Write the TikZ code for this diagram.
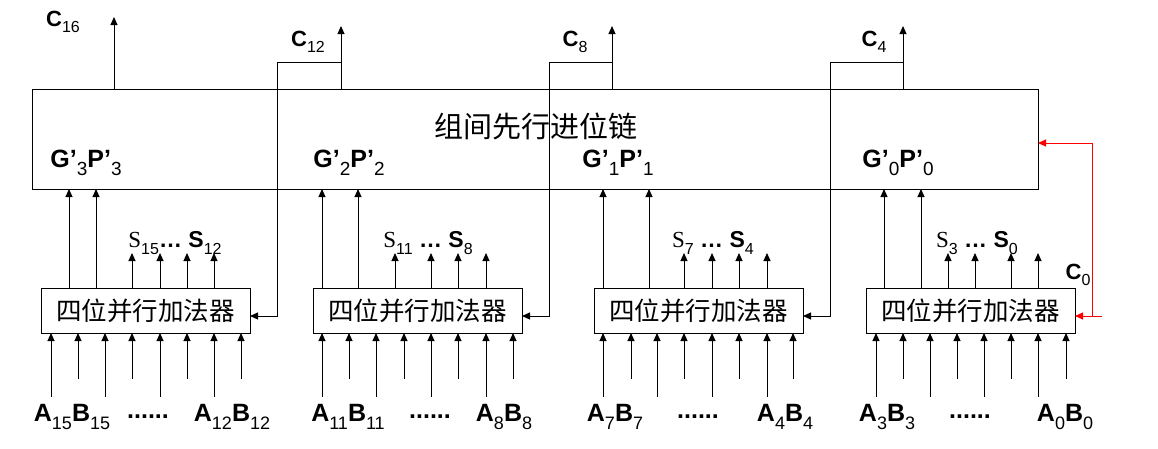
\documentclass[tikz,border=0pt]{standalone}
\usepackage{fontspec}
\setmainfont{Liberation Sans}
\newfontfamily\cjk{Noto Sans CJK SC}
\newfontfamily\tms{Liberation Serif}
\usetikzlibrary{arrows.meta}
\newcommand\sbs[2][15]{\raisebox{-0.3em}{\fontsize{#1}{#1}\selectfont\mdseries #2}}
\begin{document}
\begin{tikzpicture}[x=1pt,y=-1pt, line width=1pt,
  arr/.style={-{Triangle[length=8pt,width=7pt]}},
  box/.style={draw, inner sep=0pt, outer sep=0pt, anchor=north west},
  lab/.style={font=\fontsize{22}{22}\selectfont\bfseries, inner sep=0pt},
  gplab/.style={font=\fontsize{25}{25}\selectfont\bfseries, inner sep=0pt},
  blab/.style={font=\fontsize{25}{25}\selectfont\bfseries, inner sep=0pt},
  slab/.style={font=\fontsize{23}{23}\selectfont\bfseries, inner sep=0pt},
  cwire/.style={red, line width=1pt}
]
\path[use as bounding box] (0,0) rectangle (1158,448);

% group carry look-ahead chain
\node[box, minimum width=1006pt, minimum height=100pt] (chain) at (32,89) {};
\node[font=\cjk\fontsize{29}{29}\selectfont, inner sep=0pt] (title) at (536,126) {组间先行进位链};

% four-bit adders
\foreach \n/\x in {1/41,2/313,3/594,4/866}
  \node[box, minimum width=209pt, minimum height=45pt, font=\cjk\fontsize{25.5}{25.5}\selectfont] (add\n) at (\x,288) {四位并行加法器};

% carry outputs
\coordinate (c16) at (114,17);
\draw[arr] (chain.north -| c16) -- (c16);
\foreach \n/\x/\l in {1/341/277,2/612/549,3/903/830}{
  \coordinate (co\n) at (\x,26);
  \draw[arr] (chain.north -| co\n) -- (co\n);
  \draw[arr] (\x,62) -- (\l,62) -- (\l,316) -- (add\n.east |- 0,316);
}

% C0 input (red)
\coordinate (cin) at (1102,316);
\draw[cwire, arr] (cin) -- (add4.east |- cin);
\draw[cwire, arr] (1092,316) -- (1092,143) -- (chain.east |- 0,143);

% G', P' arrows
\foreach \n/\a/\b in {1/69/96,2/322/358,3/603/649,4/884/921}{
  \draw[arr] (add\n.north -| \a,0) -- (chain.south -| \a,0);
  \draw[arr] (add\n.north -| \b,0) -- (chain.south -| \b,0);
}

% sum outputs
\foreach \n/\xa/\xb/\xc/\xd in {1/132/160/187/214, 2/395/431/458/486, 3/684/712/739/767, 4/948/975/1011/1038}{
  \foreach \x in {\xa,\xb,\xc,\xd}
    \draw[arr] (add\n.north -| \x,0) -- (\x,253);
}

% operand inputs
\foreach \n/\xs in {1/{51,78,105,132,160,187,214,241},
                    2/{322,349,376,404,431,458,486,513},
                    3/{603,631,657,684,712,739,767,793},
                    4/{876,903,930,957,984,1011,1038,1066}}{
  \foreach \x [count=\i] in \xs {
    \pgfmathsetmacro\yy{isodd(\i) ? 397 : 379}
    \draw[arr] (\x,\yy) -- (add\n.south -| \x,0);
  }
}

% labels
\node[lab] (lc16) at (63,22) {C\sbs[16]{16}};
\node[lab] (lc12) at (308,42) {C\sbs[16]{12}};
\node[lab] (lc8) at (575,42) {C\sbs[16]{8}};
\node[lab] (lc4) at (874,42) {C\sbs[16]{4}};
\node[lab] (lc0) at (1078,275) {C\sbs[16]{0}};

\node[gplab] (gp3) at (86,163) {G’\sbs[19]{3}P’\sbs[19]{3}};
\node[gplab] (gp2) at (349,163) {G’\sbs[19]{2}P’\sbs[19]{2}};
\node[gplab] (gp1) at (618,163) {G’\sbs[19]{1}P’\sbs[19]{1}};
\node[gplab] (gp0) at (898,163) {G’\sbs[19]{0}P’\sbs[19]{0}};

\node[slab] (s1) at (175,243) {{\tms\mdseries S}\sbs[16]{15}… S\sbs[16]{12}};
\node[slab] (s2) at (428,243) {{\tms\mdseries S}\sbs[16]{11} … S\sbs[16]{8}};
\node[slab] (s3) at (713,243) {{\tms\mdseries S}\sbs[16]{7} … S\sbs[16]{4}};
\node[slab] (s4) at (977,243) {{\tms\mdseries S}\sbs[16]{3} … S\sbs[16]{0}};

\node[blab] (in1a) at (72,417) {A\sbs[18]{15}B\sbs[18]{15}};
\node[blab] (in1d) at (148,417) {......};
\node[blab] (in1b) at (232,417) {A\sbs[18]{12}B\sbs[18]{12}};
\node[blab] (in2a) at (348,417) {A\sbs[18]{11}B\sbs[18]{11}};
\node[blab] (in2d) at (430,417) {......};
\node[blab] (in2b) at (504,417) {A\sbs[18]{8}B\sbs[18]{8}};
\node[blab] (in3a) at (615,417) {A\sbs[18]{7}B\sbs[18]{7}};
\node[blab] (in3d) at (698,417) {......};
\node[blab] (in3b) at (785,417) {A\sbs[18]{4}B\sbs[18]{4}};
\node[blab] (in4a) at (887,417) {A\sbs[18]{3}B\sbs[18]{3}};
\node[blab] (in4d) at (970,417) {......};
\node[blab] (in4b) at (1065,417) {A\sbs[18]{0}B\sbs[18]{0}};
\end{tikzpicture}
\end{document}
